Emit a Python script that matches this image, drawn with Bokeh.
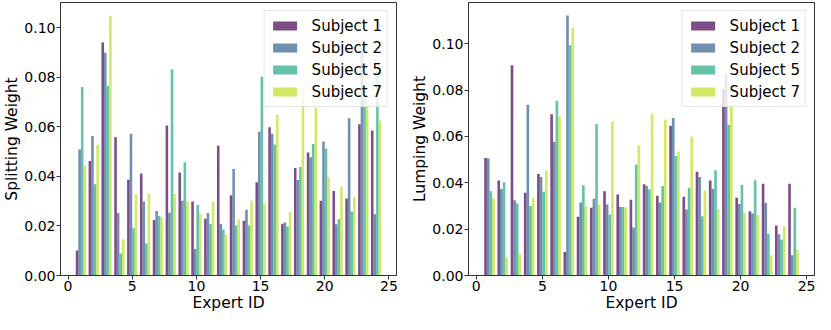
from bokeh.plotting import figure
from bokeh.models import ColumnDataSource, Range1d, FixedTicker, PrintfTickFormatter
from bokeh.transform import dodge
from bokeh.layouts import row
from bokeh.embed import file_html
from bokeh.resources import INLINE

experts = list(range(1, 25))
subjects = ["Subject 1", "Subject 2", "Subject 5", "Subject 7"]

split_s1 = [0.0101, 0.0462, 0.0940, 0.0558, 0.0386, 0.0411, 0.0224, 0.0605, 0.0415, 0.0298, 0.0229, 0.0523,
            0.0324, 0.0221, 0.0376, 0.0598, 0.0209, 0.0434, 0.0496, 0.0301, 0.0341, 0.0311, 0.0610, 0.0585]
split_s2 = [0.0508, 0.0563, 0.0898, 0.0252, 0.0572, 0.0298, 0.0260, 0.0253, 0.0301, 0.0107, 0.0252, 0.0208,
            0.0430, 0.0265, 0.0580, 0.0572, 0.0214, 0.0385, 0.0477, 0.0540, 0.0207, 0.0634, 0.0915, 0.0247]
split_s5 = [0.0760, 0.0368, 0.0764, 0.0089, 0.0191, 0.0129, 0.0240, 0.0832, 0.0457, 0.0284, 0.0208, 0.0186,
            0.0202, 0.0202, 0.0802, 0.0528, 0.0198, 0.0438, 0.0530, 0.0512, 0.0227, 0.0258, 0.0740, 0.0827]
split_s7 = [0.0443, 0.0527, 0.1048, 0.0146, 0.0327, 0.0331, 0.0234, 0.0329, 0.0298, 0.0248, 0.0298, 0.0164,
            0.0227, 0.0301, 0.0291, 0.0647, 0.0256, 0.0750, 0.0677, 0.0395, 0.0358, 0.0317, 0.0720, 0.0625]

lump_s1 = [0.0507, 0.0410, 0.0907, 0.0357, 0.0438, 0.0696, 0.0101, 0.0253, 0.0292, 0.0364, 0.0350, 0.0327,
           0.0394, 0.0344, 0.0646, 0.0340, 0.0448, 0.0410, 0.0805, 0.0335, 0.0277, 0.0396, 0.0216, 0.0396]
lump_s2 = [0.0505, 0.0373, 0.0325, 0.0737, 0.0425, 0.0577, 0.1122, 0.0315, 0.0331, 0.0306, 0.0296, 0.0207,
           0.0386, 0.0315, 0.0680, 0.0285, 0.0425, 0.0373, 0.0871, 0.0308, 0.0267, 0.0313, 0.0178, 0.0087]
lump_s5 = [0.0364, 0.0402, 0.0311, 0.0300, 0.0361, 0.0754, 0.0993, 0.0389, 0.0654, 0.0263, 0.0296, 0.0478,
           0.0371, 0.0386, 0.0516, 0.0379, 0.0256, 0.0454, 0.0649, 0.0391, 0.0411, 0.0180, 0.0155, 0.0292]
lump_s7 = [0.0332, 0.0079, 0.0093, 0.0335, 0.0452, 0.0686, 0.1069, 0.0299, 0.0306, 0.0664, 0.0293, 0.0561,
           0.0697, 0.0673, 0.0535, 0.0600, 0.0366, 0.0286, 0.0739, 0.0270, 0.0261, 0.0087, 0.0212, 0.0111]

x_ticks = [0, 5, 10, 15, 20, 25]
y_ticks = [0.0, 0.02, 0.04, 0.06, 0.08, 0.10]

colors = ["#440154", "#355f8d", "#22a884", "#bddf26"]
offsets = [-0.3, -0.1, 0.1, 0.3]
FONT = "DejaVu Sans"


def make_panel(series, ylabel, ymax, width, border_left, border_right):
    src = ColumnDataSource(dict(expert=experts, s1=series[0], s2=series[1], s5=series[2], s7=series[3]))
    p = figure(width=width, height=314, output_backend="svg", toolbar_location=None,
               x_range=Range1d(-0.59, 25.59), y_range=Range1d(0, ymax),
               min_border_left=border_left, min_border_right=border_right,
               min_border_top=2, min_border_bottom=0)
    for key, lab, col, off in zip(["s1", "s2", "s5", "s7"], subjects, colors, offsets):
        p.vbar(x=dodge("expert", off), top=key, width=0.2, source=src,
               fill_color=col, fill_alpha=0.7, line_color=None, legend_label=lab)
    p.xgrid.visible = False
    p.ygrid.visible = False
    p.outline_line_color = "#333333"
    p.outline_line_width = 1
    p.outline_line_alpha = 1
    for ax in (p.xaxis[0], p.yaxis[0]):
        ax.axis_line_color = "#333333"
        ax.major_tick_line_color = "#333333"
        ax.major_tick_out = 4
        ax.major_tick_in = 0
        ax.minor_tick_line_color = None
        ax.major_label_text_font = FONT
        ax.major_label_text_font_size = "14px"
        ax.major_label_text_color = "black"
        ax.axis_label_text_font = FONT
        ax.axis_label_text_font_size = "15.5px"
        ax.axis_label_text_font_style = "normal"
        ax.axis_label_text_color = "black"
        ax.major_label_standoff = 1
        ax.axis_label_standoff = 0
    p.xaxis.ticker = FixedTicker(ticks=x_ticks)
    p.yaxis.ticker = FixedTicker(ticks=y_ticks)
    p.yaxis.formatter = PrintfTickFormatter(format="%.2f")
    p.xaxis.axis_label = "Expert ID"
    p.yaxis.axis_label = ylabel
    lg = p.legend[0]
    lg.location = "top_right"
    lg.margin = 8
    lg.padding = 5
    lg.spacing = 3
    lg.label_height = 19
    lg.glyph_height = 11
    lg.glyph_width = 30
    lg.label_standoff = 12
    lg.label_text_font = FONT
    lg.label_text_font_size = "15px"
    lg.label_text_color = "black"
    lg.border_line_color = "#cccccc"
    lg.border_line_width = 1
    lg.background_fill_alpha = 0.8
    return p


p1 = make_panel([split_s1, split_s2, split_s5, split_s7], "Splitting Weight", 0.1101, 400, 5, 4)
p2 = make_panel([lump_s1, lump_s2, lump_s5, lump_s7], "Lumping Weight", 0.1178, 415, 68, 1)

layout = row(p1, p2)
open("out.html", "w").write(file_html(layout, INLINE))
